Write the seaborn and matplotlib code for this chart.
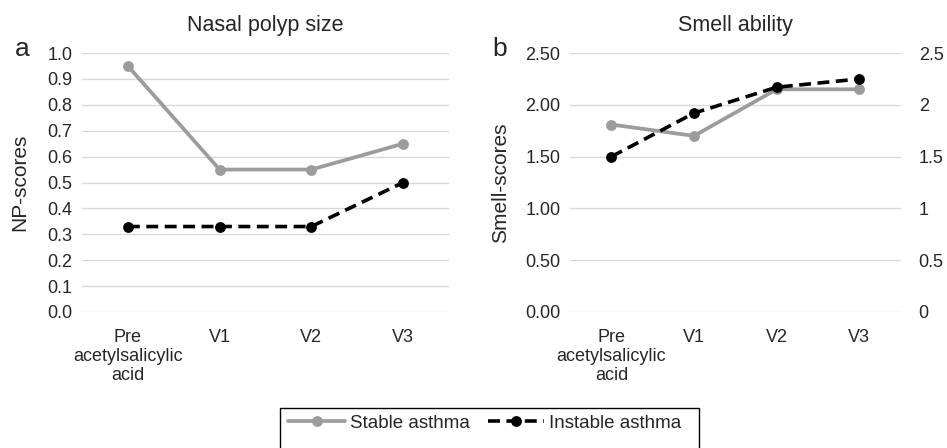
import matplotlib
matplotlib.use('Agg')
import matplotlib.pyplot as plt
from matplotlib.patches import Rectangle
import seaborn as sns
import pandas as pd

# Dati
visits = ['Pre\nacetylsalicylic\nacid', 'V1', 'V2', 'V3']
np_stable = [0.95, 0.55, 0.55, 0.65]
np_instable = [0.33, 0.33, 0.33, 0.50]
smell_stable = [1.81, 1.70, 2.15, 2.15]
smell_instable = [1.50, 1.92, 2.17, 2.25]
series_names = ['Stable asthma', 'Instable asthma']

sns.set_style('white')
plt.rcParams['font.family'] = ['Liberation Sans', 'DejaVu Sans']

GRAY = '#9c9c9c'
GRID = '#d9d9d9'
TICK_FS = 13
LABEL_FS = 15

fig = plt.figure(figsize=(9.47, 4.48), dpi=100)
ax1 = fig.add_axes([0.0866, 0.3036, 0.3875, 0.578])
ax2 = fig.add_axes([0.602, 0.3036, 0.349, 0.578])


def draw(ax, stable, instable):
    df = pd.DataFrame({'visit': visits, 'stable': stable, 'instable': instable})
    sns.lineplot(data=df, x='visit', y='stable', ax=ax, color=GRAY, lw=2.7,
                 marker='o', markersize=7.8, markeredgewidth=0, label=series_names[0],
                 sort=False, zorder=3)
    sns.lineplot(data=df, x='visit', y='instable', ax=ax, color='black', lw=2.6,
                 linestyle=(0, (3.3, 1.8)), marker='o', markersize=7.8, markeredgewidth=0,
                 label=series_names[1], sort=False, zorder=4)
    ax.set_xlim(-0.5, 3.5)
    ax.set_xlabel('')
    for s in ax.spines.values():
        s.set_visible(False)
    ax.grid(axis='y', color=GRID, lw=1)
    ax.set_axisbelow(True)
    ax.tick_params(axis='y', length=0, labelsize=TICK_FS, pad=7)
    ax.tick_params(axis='x', length=0, labelsize=TICK_FS, pad=12)
    for lbl in ax.get_xticklabels():
        lbl.set_linespacing(1.15)
    ax.get_legend().remove()


draw(ax1, np_stable, np_instable)
ax1.set_ylim(0, 1.0)
ax1.set_yticks([i / 10 for i in range(11)])
ax1.set_yticklabels([f'{i / 10:.1f}' for i in range(11)])
ax1.set_ylabel('NP-scores', fontsize=LABEL_FS, labelpad=13)
ax1.set_title('Nasal polyp size', fontsize=15.5, pad=16)

draw(ax2, smell_stable, smell_instable)
ticks2 = [0, 0.5, 1.0, 1.5, 2.0, 2.5]
ax2.set_ylim(0, 2.5)
ax2.set_yticks(ticks2)
ax2.set_yticklabels([f'{t:.2f}' for t in ticks2])
ax2.set_ylabel('Smell-scores', fontsize=LABEL_FS, labelpad=11)
ax2.set_title('Smell ability', fontsize=15.5, pad=16)

ax3 = ax2.twinx()
ax3.set_ylim(0, 2.5)
ax3.set_yticks(ticks2)
ax3.set_yticklabels(['0', '0.5', '1', '1.5', '2', '2.5'])
ax3.tick_params(axis='y', length=0, labelsize=TICK_FS, pad=13)
for s in ax3.spines.values():
    s.set_visible(False)

fig.text(0.016, 0.876, 'a', fontsize=19)
fig.text(0.52, 0.876, 'b', fontsize=19)

# Legenda (cornice disegnata a parte, tagliata in basso come nell'originale)
h1, h2 = ax1.get_lines()[0], ax1.get_lines()[1]
leg = fig.legend([h1, h2], series_names, loc='center', bbox_to_anchor=(0.512, 0.0558),
                 ncol=2, frameon=False, fontsize=13.5,
                 handlelength=3.0, handletextpad=0.27, columnspacing=0.96,
                 borderpad=0.0)
fig.patches.append(Rectangle((280 / 947, -0.02), (699 - 280) / 947, 0.02 + 1 - 408 / 448,
                             transform=fig.transFigure, fill=False, edgecolor='black',
                             lw=1.0, clip_on=False))

fig.savefig('out.png', dpi=100)
